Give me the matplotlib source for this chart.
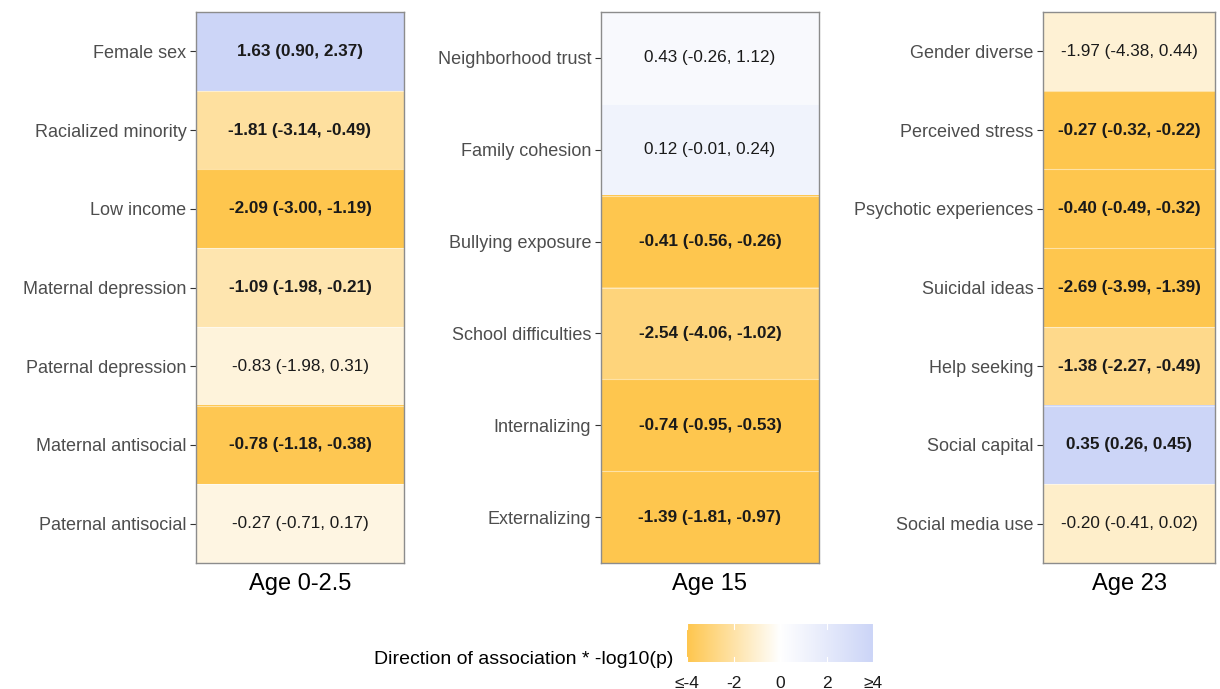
import matplotlib
matplotlib.use('Agg')
import matplotlib.pyplot as plt
import matplotlib.colors as mcolors
import numpy as np

plt.rcParams['font.family'] = ['Liberation Sans', 'DejaVu Sans']

# Row labels, estimates (95% CI), signed -log10(p) fill and significance per age period
labels_0 = ['Female sex', 'Racialized minority', 'Low income', 'Maternal depression',
            'Paternal depression', 'Maternal antisocial', 'Paternal antisocial']
est_0 = ['1.63 (0.90, 2.37)', '-1.81 (-3.14, -0.49)', '-2.09 (-3.00, -1.19)',
         '-1.09 (-1.98, -0.21)', '-0.83 (-1.98, 0.31)', '-0.78 (-1.18, -0.38)',
         '-0.27 (-0.71, 0.17)']
fill_0 = [4.0, -2.15, -4.0, -1.8, -0.81, -3.9, -0.64]
sig_0 = [True, True, True, True, False, True, False]

labels_15 = ['Neighborhood trust', 'Family cohesion', 'Bullying exposure',
             'School difficulties', 'Internalizing', 'Externalizing']
est_15 = ['0.43 (-0.26, 1.12)', '0.12 (-0.01, 0.24)', '-0.41 (-0.56, -0.26)',
          '-2.54 (-4.06, -1.02)', '-0.74 (-0.95, -0.53)', '-1.39 (-1.81, -0.97)']
fill_15 = [0.55, 1.1, -4.0, -2.96, -4.0, -4.0]
sig_15 = [False, False, True, True, True, True]

labels_23 = ['Gender diverse', 'Perceived stress', 'Psychotic experiences', 'Suicidal ideas',
             'Help seeking', 'Social capital', 'Social media use']
est_23 = ['-1.97 (-4.38, 0.44)', '-0.27 (-0.32, -0.22)', '-0.40 (-0.49, -0.32)',
          '-2.69 (-3.99, -1.39)', '-1.38 (-2.27, -0.49)', '0.35 (0.26, 0.45)',
          '-0.20 (-0.41, 0.02)']
fill_23 = [-0.96, -4.0, -4.0, -4.0, -2.62, 4.0, -1.16]
sig_23 = [False, True, True, True, True, True, False]

titles = ['Age 0-2.5', 'Age 15', 'Age 23']
cbar_ticks = [-4, -2, 0, 2, 4]
cbar_ticklabels = ['≤-4', '-2', '0', '2', '≥4']

cmap = mcolors.LinearSegmentedColormap.from_list('assoc', ['#FEC64E', '#FFFFFF', '#CCD5F7'])
norm = mcolors.Normalize(vmin=-4, vmax=4)

W, H = 1220, 689
fig = plt.figure(figsize=(W / 100, H / 100), dpi=100)

def px_axes(x0, y0, x1, y1):
    return fig.add_axes([x0 / W, 1 - y1 / H, (x1 - x0) / W, (y1 - y0) / H])

panels = [
    (labels_0, est_0, fill_0, sig_0, (196, 12, 404, 563)),
    (labels_15, est_15, fill_15, sig_15, (601, 12, 819, 563)),
    (labels_23, est_23, fill_23, sig_23, (1043, 12, 1215, 563)),
]

for (labels, est, fill, sig, box), title in zip(panels, titles):
    ax = px_axes(*box)
    n = len(labels)
    ax.imshow(np.array(fill).reshape(-1, 1), cmap=cmap, norm=norm, aspect='auto',
              extent=(0, 1, n - 0.5, -0.5))
    for i in range(1, n):
        ax.axhline(i - 0.5, color='white', lw=0.8, alpha=0.5)
    for i, (t, s) in enumerate(zip(est, sig)):
        ax.text(0.5, i, t, ha='center', va='center', fontsize=12.3,
                fontweight='bold' if s else 'normal', color='#1a1a1a')
    ax.set_xlim(0, 1)
    ax.set_ylim(n - 0.5, -0.5)
    ax.set_yticks(range(n))
    ax.set_yticklabels(labels, fontsize=13, color='#4d4d4d')
    ax.set_xticks([])
    ax.tick_params(axis='y', length=4, width=0.8, color='#333333', pad=3)
    for sp in ax.spines.values():
        sp.set_color('#8c8c8c')
        sp.set_linewidth(1.0)
    ax.set_xlabel(title, fontsize=17, color='black', labelpad=7)

# Colorbar
cax = px_axes(687, 624, 873, 662)
grad = np.linspace(-4, 4, 256).reshape(1, -1)
cax.imshow(grad, cmap=cmap, norm=norm, aspect='auto', extent=(-4, 4, 0, 1))
cax.set_xlim(-4, 4)
cax.set_ylim(0, 1)
for t in cbar_ticks:
    cax.plot([t, t], [0, 0.12], color='white', lw=0.8)
    cax.plot([t, t], [0.88, 1], color='white', lw=0.8)
cax.set_yticks([])
cax.set_xticks(cbar_ticks)
cax.set_xticklabels(cbar_ticklabels, fontsize=12.5, color='#1a1a1a')
cax.tick_params(axis='x', length=0, pad=10)
for sp in cax.spines.values():
    sp.set_visible(False)

fig.text(673 / W, 1 - 659 / H, 'Direction of association * -log10(p)', ha='right',
         va='center', fontsize=14, color='black')

fig.savefig('out.png', dpi=100)
